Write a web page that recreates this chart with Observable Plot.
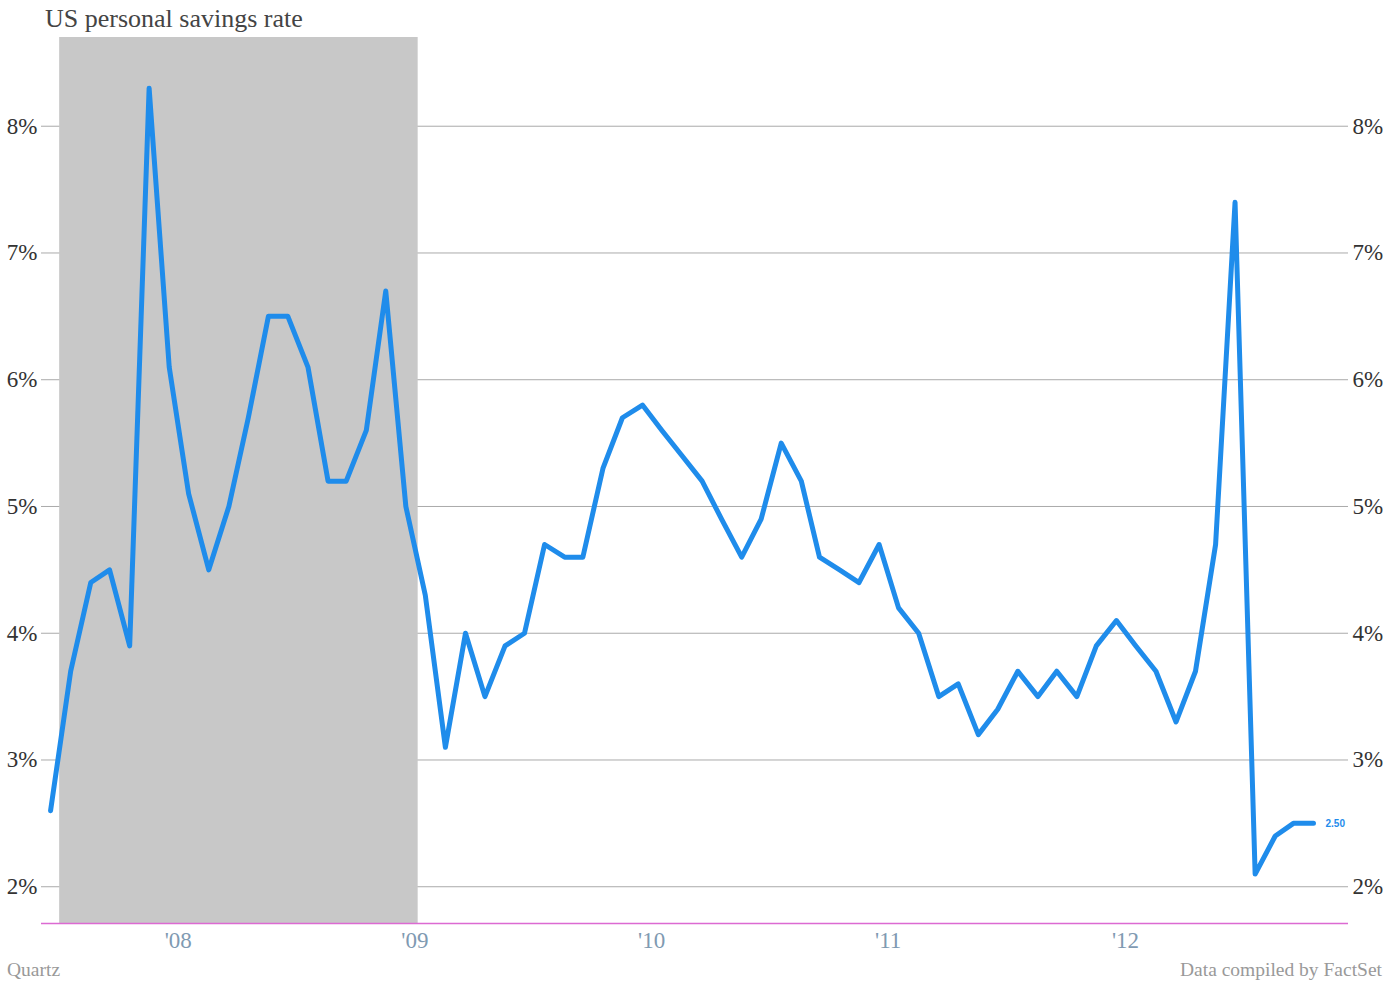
<!DOCTYPE html>
<html>
<head>
<meta charset="utf-8">
<script src="https://cdn.jsdelivr.net/npm/d3@7"></script>
<script src="https://cdn.jsdelivr.net/npm/@observablehq/plot@0.6"></script>
<style>
  html, body { margin: 0; padding: 0; background: #fff; }
  #wrap { position: relative; width: 1390px; height: 988px; overflow: hidden; }
  #chart { position: absolute; left: 0; top: 0; }
  .title { position: absolute; left: 45px; top: 5px; font: 26px "Liberation Serif", serif; color: #444; line-height: 28px; white-space: nowrap; }
  .foot { position: absolute; top: 958px; font: 19.5px "Liberation Serif", serif; color: #999; line-height: 24px; white-space: nowrap; }
  #chart [aria-label^="x-axis"] { color: #7f9ab2; }
  #chart [aria-label^="y-axis"] { color: #333; }
</style>
</head>
<body>
<div id="wrap">
  <div id="chart"></div>
  <div class="title">US personal savings rate</div>
  <div class="foot" style="left:7px;">Quartz</div>
  <div class="foot" style="right:8px;">Data compiled by FactSet</div>
</div>
<script>
// Monthly US personal savings rate, Dec 2007 – Apr 2013 (%)
const startMonth = "2007-12-01";
const savingsRate = [2.6, 3.7, 4.4, 4.5, 3.9, 8.3, 6.1, 5.1, 4.5, 5.0, 5.7, 6.5, 6.5, 6.1, 5.2, 5.2, 5.6, 6.7, 5.0, 4.3,
                     3.1, 4.0, 3.5, 3.9, 4.0, 4.7, 4.6, 4.6, 5.3, 5.7, 5.8, 5.6, 5.4, 5.2, 4.9, 4.6, 4.9, 5.5, 5.2, 4.6,
                     4.5, 4.4, 4.7, 4.2, 4.0, 3.5, 3.6, 3.2, 3.4, 3.7, 3.5, 3.7, 3.5, 3.9, 4.1, 3.9, 3.7, 3.3, 3.7, 4.7,
                     7.4, 2.1, 2.4, 2.5, 2.5];
// Recession shading
const recessionStart = ["2007-12-15"];
const recessionEnd = ["2009-06-20"];
// Axes
const xTickDates = ["2008-06-15", "2009-06-15", "2010-06-15", "2011-06-15", "2012-06-15"];
const xTickLabels = ["'08", "'09", "'10", "'11", "'12"];
const yTicks = [2, 3, 4, 5, 6, 7, 8];
const xDomain = ["2007-11-17", "2013-05-25"];
const yDomain = [1.71, 8.70];

const start = new Date(startMonth);
const dates = savingsRate.map((_, i) => d3.utcMonth.offset(start, i));
const data = savingsRate.map((v, i) => ({date: dates[i], value: v}));
const recession = recessionStart.map((s, i) => ({x1: new Date(s), x2: new Date(recessionEnd[i])}));
const tickDates = xTickDates.map(d => new Date(d));
const labelOf = new Map(tickDates.map((d, i) => [+d, xTickLabels[i]]));
const last = data[data.length - 1];

const chart = Plot.plot({
  width: 1390,
  height: 988,
  marginLeft: 41,
  marginRight: 42,
  marginTop: 37,
  marginBottom: 65,
  style: {fontFamily: '"Liberation Serif", serif', fontSize: "23px", background: "transparent", overflow: "visible"},
  x: {type: "utc", domain: xDomain.map(d => new Date(d)), ticks: tickDates, tickFormat: d => labelOf.get(+d), tickSize: 0, tickPadding: 8, label: null},
  y: {domain: yDomain, ticks: yTicks, tickFormat: d => d + "%", tickSize: 0, tickPadding: 4, axis: "both", label: null},
  marks: [
    Plot.ruleY(yTicks, {stroke: "#aaa", strokeWidth: 1}),
    Plot.rect(recession, {x1: "x1", x2: "x2", fill: "#c8c8c8"}),
    Plot.ruleY([yDomain[0]], {stroke: "#dc6ad2", strokeWidth: 1.5}),
    Plot.line(data, {x: "date", y: "value", stroke: "#1f8ceb", strokeWidth: 5, strokeLinejoin: "round", strokeLinecap: "round"}),
    Plot.text([last], {x: "date", y: "value", text: d => d.value.toFixed(2), dx: 12, textAnchor: "start", fill: "#1f8ceb", fontSize: 10, fontFamily: '"Liberation Sans", Arial, sans-serif', fontWeight: "bold"})
  ]
});
document.getElementById("chart").appendChild(chart);
</script>
</body>
</html>
